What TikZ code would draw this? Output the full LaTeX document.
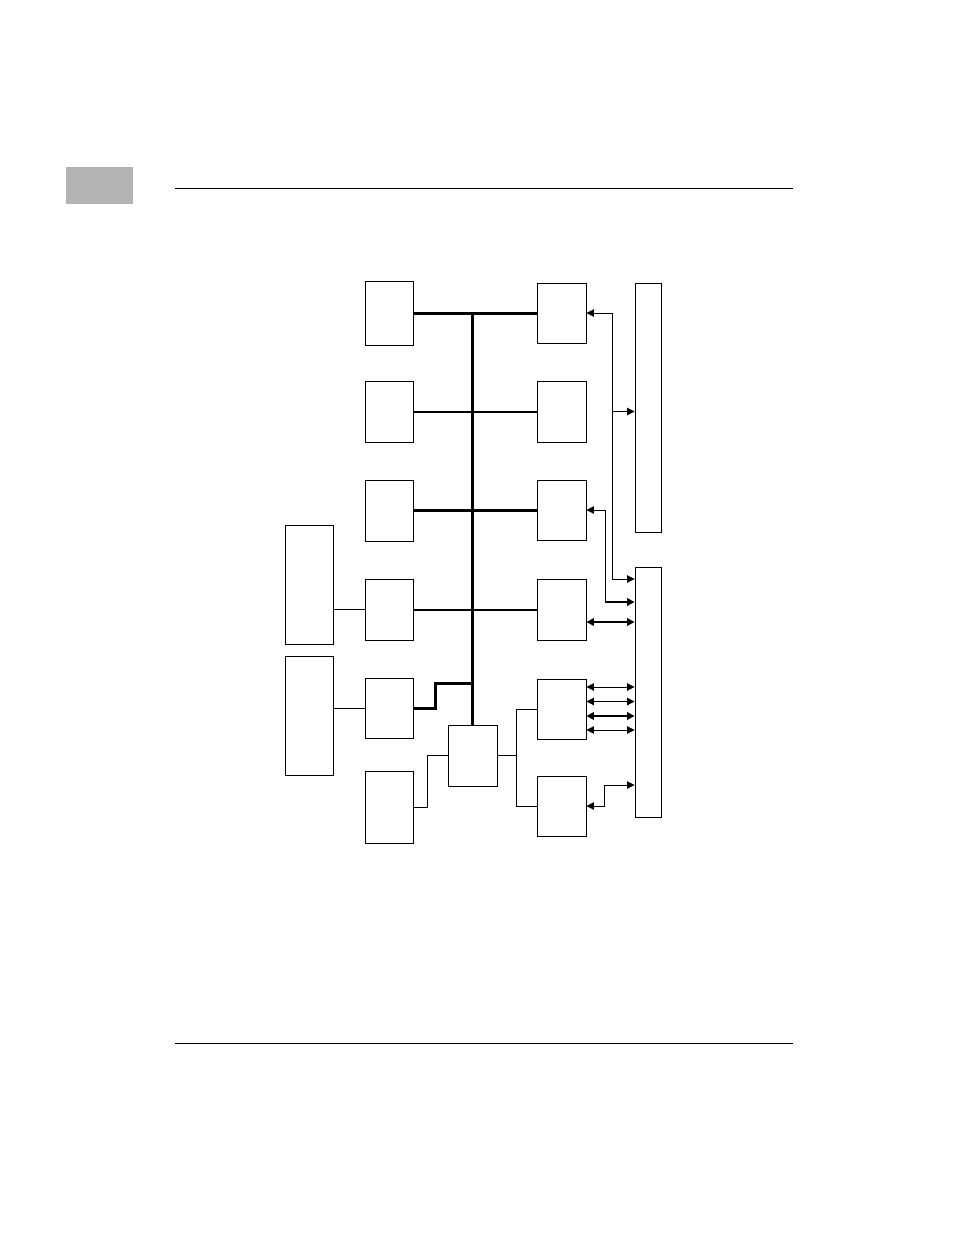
\documentclass[tikz,border=0pt]{standalone}
\usepackage{tikz}
\usetikzlibrary{arrows.meta,positioning,calc}
\definecolor{tabgray}{RGB}{179,179,179}

\begin{document}
\begin{tikzpicture}[
    x=1pt, y=-1pt,
    box/.style={draw, line width=0.9pt, inner sep=0pt, minimum width=48pt, minimum height=61pt},
    rail/.style={draw, line width=0.9pt, inner sep=0pt, minimum width=26pt, minimum height=249pt},
    bus/.style={line width=3pt},
    lane/.style={line width=2pt},
    wire/.style={line width=0.9pt},
    arrow/.style={-{Triangle[length=7.5pt,width=7.5pt]}, line width=0.9pt},
    both/.style={{Triangle[length=7.5pt,width=7.5pt]}-{Triangle[length=7.5pt,width=7.5pt]}, line width=0.9pt}
]
    \useasboundingbox (0,0) rectangle (954,1235);

    % Page frame
    \fill[tabgray] (66,167) rectangle (133,204);
    \draw[line width=1pt] (175,188) -- (793,188);
    \draw[line width=1pt] (175,1043) -- (793,1043);

    % Boxes
    \node[box, minimum height=64pt] (cpu) at (389,313) {};
    \node[box] (mem) at (389,411.5) {};
    \node[box] (vme) at (389,510.5) {};
    \node[box] (scsi) at (389,609.5) {};
    \node[box, minimum height=60pt] (lan) at (389,708) {};
    \node[box, minimum height=72pt] (rom) at (389,807) {};
    \node[box, minimum height=119pt] (disk) at (309,584.5) {};
    \node[box, minimum height=119pt] (net) at (309,715.5) {};
    \node[box, minimum width=49pt, minimum height=60pt] (cache) at (561.5,313) {};
    \node[box, minimum width=49pt] (dram) at (561.5,411.5) {};
    \node[box, minimum width=49pt, minimum height=60pt] (ctrl) at (561.5,510) {};
    \node[box, minimum width=49pt] (par) at (561.5,609.5) {};
    \node[box, minimum width=49pt, minimum height=60pt] (ser) at (561.5,709) {};
    \node[box, minimum width=49pt, minimum height=60pt] (rtc) at (561.5,806) {};
    \node[box, minimum width=49pt] (brg) at (472.5,755.5) {};
    \node[rail] (conA) at (648,407.5) {};
    \node[rail, minimum height=250pt] (conB) at (648,692) {};

    % Bus
    \coordinate (bustop) at (472.5,313);
    \draw[bus] (bustop) -- (brg.north);
    \draw[bus] (cpu.east) -- (cache.west);
    \draw[lane] (mem.east) -- (dram.west);
    \draw[bus] (vme.east |- ctrl.west) -- (ctrl.west);
    \draw[lane] (scsi.east) -- (par.west);
    \draw[bus] (lan.east) -- ++(22.5,0) |- (brg.north |- 0,683);

    % Local wires
    \draw[wire] (disk.east |- scsi.west) -- (scsi.west);
    \draw[wire] (net.east |- lan.west) -- (lan.west);
    \draw[wire] (rom.east) -- ++(14,0) |- (brg.west);
    \draw[wire] (brg.east) -- ++(18.5,0) coordinate (split);
    \draw[wire] (split |- ser.west) -- (split |- rtc.west);
    \draw[wire] (split |- ser.west) -- (ser.west);
    \draw[wire] (split |- rtc.west) -- (rtc.west);

    % Arrows
    \coordinate (jA) at (612,313);
    \coordinate (jB) at (605,510);
    \draw[arrow] (jA) -- (cache.east);
    \draw[arrow] (jA) |- (conB.west |- 0,579);
    \draw[arrow] (jA |- dram.east) -- (conA.west |- dram.east);
    \draw[arrow] (jB |- 0,602) |- (ctrl.east);
    \draw[arrow, line width=2pt] (jB |- 0,602) -- (conB.west |- 0,602);
    \draw[both, line width=2pt] (par.east |- 0,622) -- (conB.west |- 0,622);
    \draw[both] (ser.east |- 0,687) -- (conB.west |- 0,687);
    \draw[both] (ser.east |- 0,701.5) -- (conB.west |- 0,701.5);
    \draw[both, line width=2pt] (ser.east |- 0,716) -- (conB.west |- 0,716);
    \draw[both] (ser.east |- 0,730) -- (conB.west |- 0,730);
    \draw[both] (conB.west |- 0,785) -- (604.5,785) -- (604.5,806) -- (rtc.east);
\end{tikzpicture}
\end{document}
